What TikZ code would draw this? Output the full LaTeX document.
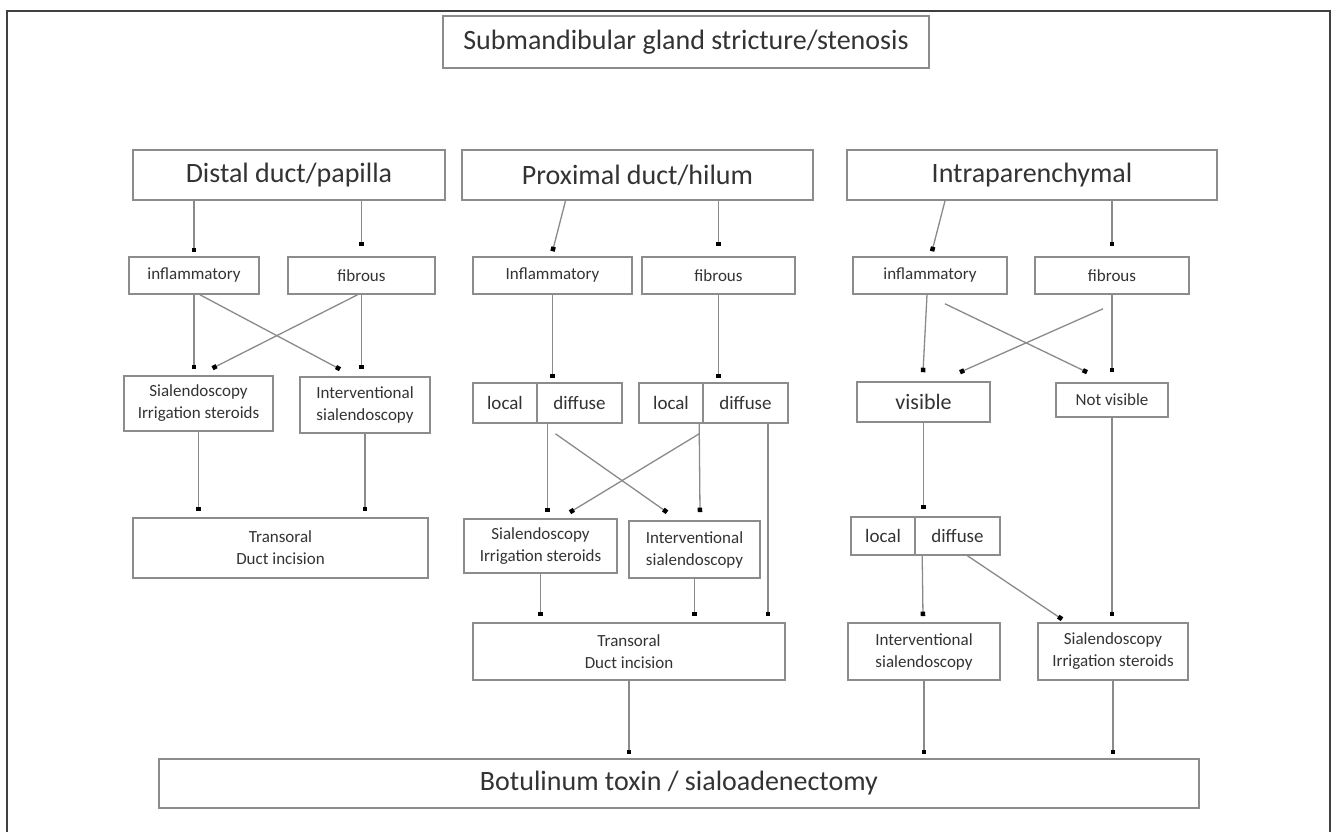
\documentclass[tikz,border=0pt]{standalone}
\usepackage{fontspec}
\setmainfont{Carlito}
\usetikzlibrary{arrows.meta,calc}
\definecolor{boxgray}{HTML}{8C8C8C}
\definecolor{linegray}{HTML}{8A8A8A}
\definecolor{txt}{HTML}{333333}
\begin{document}
\begin{tikzpicture}[x=1pt,y=-1pt,
  box/.style={draw=boxgray,line width=1.6pt,fill=white,inner sep=0pt,text=txt,align=center},
  big/.style={font=\fontsize{28}{32}\selectfont},
  small/.style={font=\fontsize{17}{22}\selectfont},
  mid/.style={font=\fontsize{19}{23}\selectfont},
  ar/.style={draw=linegray,line width=1.3pt,-{Square[length=4.5pt,width=4.5pt,color=black]}}]
\useasboundingbox (0,0) rectangle (1338,832);
\fill[white] (0,0) rectangle (1338,832);
\draw[black!75,line width=1.5pt] (7,832) -- (7,11) -- (1330,11) -- (1330,832);

% title
\node[box,big,minimum width=486pt,minimum height=52pt] (title) at (686,42) {Submandibular gland stricture/stenosis};

% level 1
\node[box,big,minimum width=312pt,minimum height=50pt] (distal) at (289,175) {Distal duct/papilla};
\node[box,big,minimum width=351pt,minimum height=50pt] (proximal) at (637.5,175) {Proximal duct/hilum};
\node[box,big,minimum width=370pt,minimum height=50pt] (intra) at (1032,175) {Intraparenchymal};

% level 2
\node[box,small,minimum width=130pt,minimum height=37pt] (infl1) at (194,275.5) {inflammatory};
\node[box,small,minimum width=147pt,minimum height=37pt] (fib1) at (361.5,275.5) {fibrous};
\node[box,small,minimum width=159pt,minimum height=37pt] (infl2) at (552.5,275.5) {Inflammatory};
\node[box,small,minimum width=153pt,minimum height=37pt] (fib2) at (718.5,275.5) {fibrous};
\node[box,small,minimum width=154pt,minimum height=37pt] (infl3) at (930,275.5) {inflammatory};
\node[box,small,minimum width=154pt,minimum height=37pt] (fib3) at (1112,275.5) {fibrous};

% level 3
\node[box,small,minimum width=149pt,minimum height=55pt] (sial1) at (198.5,403.5) {Sialendoscopy\\Irrigation steroids};
\node[box,small,minimum width=130pt,minimum height=56pt] (interv1) at (365,405) {Interventional\\sialendoscopy};
\node[box,mid,minimum width=64pt,minimum height=40pt] (local1) at (505,403) {local};
\node[box,mid,minimum width=85pt,minimum height=40pt] (diffuse1) at (579.5,403) {diffuse};
\node[box,mid,minimum width=64pt,minimum height=40pt] (local2) at (671,403) {local};
\node[box,mid,minimum width=85pt,minimum height=40pt] (diffuse2) at (745.5,403) {diffuse};
\node[box,font=\fontsize{22}{26}\selectfont,minimum width=133pt,minimum height=40pt] (visible) at (923.5,402) {visible};
\node[box,small,minimum width=112pt,minimum height=34pt] (notvis) at (1112,400) {Not visible};

% level 4
\node[box,small,minimum width=295pt,minimum height=60pt] (trans1) at (280.5,548) {Transoral\\Duct incision};
\node[box,small,minimum width=153pt,minimum height=54pt] (sial2) at (540.5,546) {Sialendoscopy\\Irrigation steroids};
\node[box,small,minimum width=131pt,minimum height=57pt] (interv2) at (694.5,549.5) {Interventional\\sialendoscopy};
\node[box,mid,minimum width=64pt,minimum height=38pt] (local3) at (883,536) {local};
\node[box,mid,minimum width=85pt,minimum height=38pt] (diffuse3) at (957.5,536) {diffuse};

% level 5
\node[box,small,minimum width=312pt,minimum height=57pt] (trans2) at (629,651.5) {Transoral\\Duct incision};
\node[box,small,minimum width=152pt,minimum height=57pt] (interv3) at (924,651.5) {Interventional\\sialendoscopy};
\node[box,small,minimum width=150pt,minimum height=57pt] (sial3) at (1113,651.5) {Sialendoscopy\\Irrigation steroids};

% bottom
\node[box,big,minimum width=1040pt,minimum height=49pt] (bottom) at (679,783.5) {Botulinum toxin / sialoadenectomy};

% distal connectors
\draw[ar] (distal.south -| infl1.north) -- ($(infl1.north)+(0,-4)$);
\draw[ar] (distal.south -| fib1.north) -- ($(fib1.north)+(0,-10)$);
\draw[ar] (infl1.south) -- ($(infl1.south |- sial1.north)+(0,-6)$);
\draw[ar] ($(infl1.south)+(6,0)$) -- ($(interv1.north)+(-25,-7)$);
\draw[ar] ($(fib1.south)+(-4,0)$) -- ($(sial1.north)+(14,-7)$);
\draw[ar] (fib1.south) -- ($(fib1.south |- interv1.north)+(0,-7)$);
\draw[ar] (sial1.south) -- ($(sial1.south |- trans1.north)+(0,-6)$);
\draw[ar] (interv1.south) -- ($(interv1.south |- trans1.north)+(0,-6)$);

% proximal connectors
\draw[ar] ($(proximal.south)+(-72,0)$) -- ($(infl2.north)+(0,-5)$);
\draw[ar] (proximal.south -| fib2.north) -- ($(fib2.north)+(0,-10)$);
\draw[ar] (infl2.south) -- ($(infl2.south |- diffuse1.north)+(0,-4)$);
\draw[ar] (fib2.south) -- ($(fib2.south |- diffuse2.north)+(0,-4)$);
\draw[ar] ($(diffuse1.south)+(-32,0)$) -- ($(sial2.north)+(7,-6)$);
\draw[ar] ($(diffuse1.south)+(-24,10)$) -- ($(interv2.north)+(-27.5,-8)$);
\draw[ar] ($(diffuse2.south west)+(-3,10)$) -- ($(sial2.north)+(29.5,-6)$);
\draw[ar] ($(diffuse2.south west)+(-3,0)$) -- ($(interv2.north)+(5.5,-8)$);
\draw[ar] ($(diffuse2.south)+(22.5,0)$) -- ($(trans2.north)+(139,-6)$);
\draw[ar] (sial2.south) -- ($(sial2.south |- trans2.north)+(0,-6)$);
\draw[ar] (interv2.south) -- ($(interv2.south |- trans2.north)+(0,-6)$);
\draw[ar] (trans2.south) -- ($(trans2.south |- bottom.north)+(0,-4)$);

% intraparenchymal connectors
\draw[ar] ($(intra.south)+(-87,0)$) -- ($(infl3.north)+(2,-5)$);
\draw[ar] (intra.south -| fib3.north) -- ($(fib3.north)+(0,-10)$);
\draw[ar] ($(infl3.south)+(-3,0)$) -- ($(visible.north)+(-0.5,-9)$);
\draw[ar] ($(infl3.south)+(15,9)$) -- ($(notvis.north)+(-25,-10)$);
\draw[ar] ($(fib3.south)+(-9,14)$) -- ($(visible.north)+(36.5,-9)$);
\draw[ar] (fib3.south) -- ($(fib3.south |- notvis.north)+(0,-10)$);
\draw[ar] (visible.south) -- ($(visible.south |- diffuse3.north)+(0,-7)$);
\draw[ar] ($(diffuse3.south west)+(8,0)$) -- ($(interv3.north)+(-1,-6)$);
\draw[ar] ($(diffuse3.south)+(10,0)$) -- ($(sial3.north)+(-51,-3)$);
\draw[ar] (notvis.south) -- ($(notvis.south |- sial3.north)+(0,-6)$);
\draw[ar] (interv3.south) -- ($(interv3.south |- bottom.north)+(0,-4)$);
\draw[ar] (sial3.south) -- ($(sial3.south |- bottom.north)+(0,-4)$);
\end{tikzpicture}
\end{document}
